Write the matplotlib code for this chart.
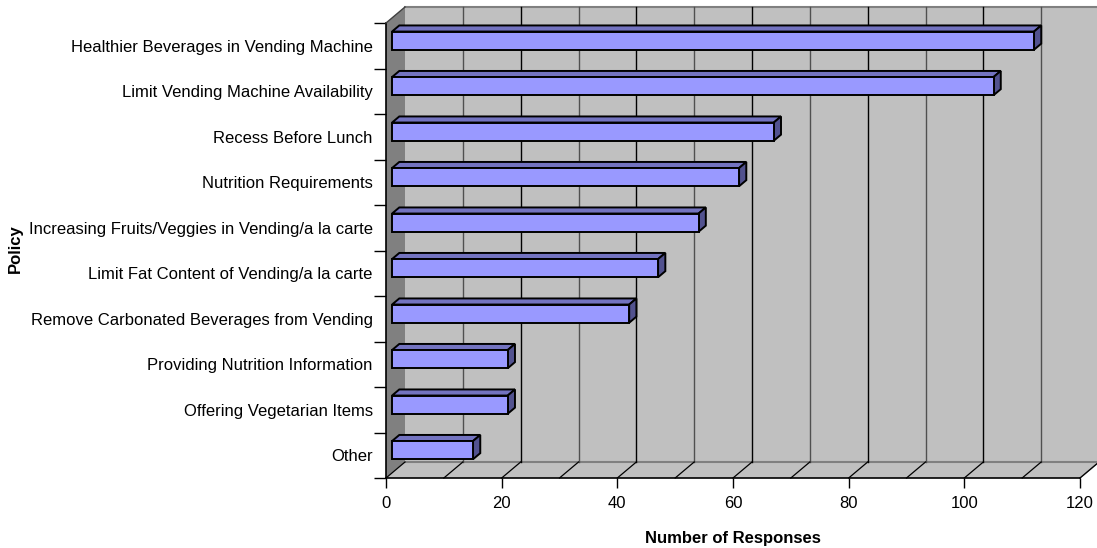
import matplotlib.pyplot as plt
from matplotlib.patches import Polygon

plt.rcParams['font.family'] = ['Liberation Sans', 'DejaVu Sans']

# data (bottom to top)
policies = ['Other', 'Offering Vegetarian Items', 'Providing Nutrition Information',
            'Remove Carbonated Beverages from Vending', 'Limit Fat Content of Vending/a la carte',
            'Increasing Fruits/Veggies in Vending/a la carte', 'Nutrition Requirements',
            'Recess Before Lunch', 'Limit Vending Machine Availability',
            'Healthier Beverages in Vending Machine']
responses = [14, 20, 20, 41, 46, 53, 60, 66, 104, 111]
xticks = [0, 20, 40, 60, 80, 100, 120]

W, H = 1097, 548
fig = plt.figure(figsize=(W / 100, H / 100), dpi=100)
ax = fig.add_axes([386 / W, 70 / H, 694 / W, 455 / H])
ax.set_xlim(0, 120)
ax.set_ylim(-0.5, 9.5)
for s in ax.spines.values():
    s.set_visible(False)
ax.patch.set_visible(False)

# depth of the 3d box in data units (19 px right, 16 px up)
DX = 19 * 120 / 694
DY = 16 * 10 / 455
n = len(policies)
y0, y1 = -0.5, n - 0.5

# walls and floor
ax.add_patch(Polygon([(DX, y0 + DY), (120 + DX, y0 + DY), (120 + DX, y1 + DY), (DX, y1 + DY)],
                     closed=True, fc='#c0c0c0', ec='none', zorder=0, clip_on=False))
ax.add_patch(Polygon([(0, y0), (DX, y0 + DY), (DX, y1 + DY), (0, y1)],
                     closed=True, fc='#808080', ec='none', zorder=0, clip_on=False))
ax.add_patch(Polygon([(0, y0), (120, y0), (120 + DX, y0 + DY), (DX, y0 + DY)],
                     closed=True, fc='#c0c0c0', ec='none', zorder=0, clip_on=False))
ax.plot([DX, 120 + DX], [y1 + DY, y1 + DY], color='#808080', lw=1.5, zorder=1, clip_on=False)
ax.plot([DX, 120 + DX], [y0 + DY, y0 + DY], color='#808080', lw=1.5, zorder=1, clip_on=False)
ax.plot([120, 120 + DX], [y0, y0 + DY], color='#808080', lw=1, zorder=1, clip_on=False)

# gridlines on back wall and floor
for v in range(10, 121, 10):
    c = 'black' if v % 20 == 0 else '#505050'
    ax.plot([v + DX, v + DX], [y0 + DY, y1 + DY], color=c, lw=1, zorder=1, clip_on=False)
for v in range(0, 121, 10):
    ax.plot([v, v + DX], [y0, y0 + DY], color='black', lw=0.9, zorder=1, clip_on=False)

# front edges
ax.plot([0, 120], [y0, y0], color='black', lw=1.2, zorder=2, clip_on=False)
ax.plot([0, 0], [y0, y1], color='black', lw=1.2, zorder=2, clip_on=False)
ax.plot([0, DX], [y1, y1 + DY], color='#404040', lw=1, zorder=2, clip_on=False)

# bars
d1, d2 = 0.32, 0.70
bh = 0.4
ypos = list(range(n))
fx, fy = d1 * DX, d1 * DY
bx, by = d2 * DX, d2 * DY
for y, v in zip(ypos, responses):
    top = y + fy + bh / 2
    bot = y + fy - bh / 2
    ax.add_patch(Polygon([(fx, top), (fx + v, top), (bx + v, top + by - fy), (bx, top + by - fy)],
                         closed=True, fc='#7373c0', ec='black', lw=1.4, zorder=3, clip_on=False))
    ax.add_patch(Polygon([(fx + v, bot), (fx + v, top), (bx + v, top + by - fy), (bx + v, bot + by - fy)],
                         closed=True, fc='#52528f', ec='black', lw=1.4, zorder=3, clip_on=False))
ax.barh([y + fy for y in ypos], responses, left=fx, height=bh,
        color='#9999ff', edgecolor='black', lw=1.4, zorder=4)

# ticks
ax.set_xticks(xticks)
ax.tick_params(axis='x', length=7, width=1, pad=6, labelsize=12)
ax.set_yticks([i - 0.5 for i in range(n + 1)])
ax.set_yticklabels([])
ax.set_yticks(ypos, minor=True)
ax.set_yticklabels(policies, minor=True)
ax.tick_params(axis='y', which='major', length=9, width=1)
ax.tick_params(axis='y', which='minor', length=0, pad=9.5, labelsize=12)

fig.text(733 / W, 1 - 538 / H, 'Number of Responses', ha='center', va='center',
         fontsize=12, fontweight='bold')
fig.text(15 / W, 1 - 249 / H, 'Policy', ha='center', va='center', rotation=90,
         fontsize=12, fontweight='bold')

fig.savefig('out.png', dpi=100)
